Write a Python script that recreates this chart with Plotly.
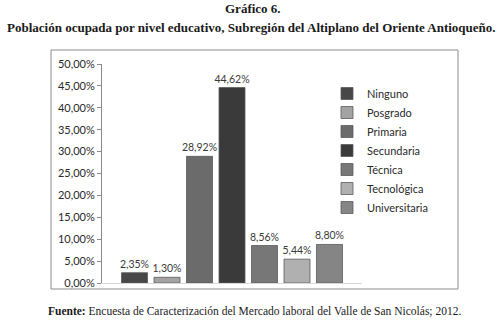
import plotly.graph_objects as go

categories = ["Ninguno", "Posgrado", "Primaria", "Secundaria", "Técnica", "Tecnológica", "Universitaria"]
values = [2.35, 1.30, 28.92, 44.62, 8.56, 5.44, 8.80]
colors = ["#474747", "#a3a3a3", "#6b6b6b", "#3a3a3a", "#777777", "#b0b0b0", "#858585"]
y_ticks = [0, 5, 10, 15, 20, 25, 30, 35, 40, 45, 50]

title1 = "Gráfico 6."
title2 = "Población ocupada por nivel educativo, Subregión del Altiplano del Oriente Antioqueño."
source_bold = "Fuente:"
source_text = " Encuesta de Caracterización del Mercado laboral del Valle de San Nicolás; 2012."

W, H = 502, 320
L, R, T, B = 102, 140, 64, 37
pw, ph = W - L - R, H - T - B

def px_x(p):
    return (p - L) / pw

def px_y(p):
    return (H - B - p) / ph

fig = go.Figure()
for cat, val, col in zip(categories, values, colors):
    fig.add_trace(go.Bar(
        x=[cat], y=[val], name=cat,
        marker=dict(color=col, line=dict(color="#5a5a5a", width=0.8)),
        texttemplate="%{y:.2f}%", textposition="outside", constraintext="none",
        textfont=dict(family="Lato", size=10.5, color="#3a3a3a"),
        cliponaxis=False,
    ))

fig.update_layout(
    width=W, height=H,
    margin=dict(l=L, r=R, t=T, b=B),
    paper_bgcolor="white", plot_bgcolor="white",
    separators=",.",
    barmode="relative", bargap=0.2,
    showlegend=True,
    legend=dict(
        x=px_x(327), y=px_y(79), xanchor="left", yanchor="top",
        font=dict(family="Lato", size=11, color="#2a2a2a"),
        tracegroupgap=2, itemwidth=30, bgcolor="rgba(0,0,0,0)",
    ),
    xaxis=dict(
        categoryorder="array", categoryarray=categories,
        range=[-1, 7], showticklabels=False, ticks="",
        showline=True, linecolor="#d8d8d8", linewidth=1,
        showgrid=False, zeroline=False,
    ),
    yaxis=dict(
        range=[0, 50], tickvals=y_ticks,
        ticktext=[f"{v:.2f}".replace(".", ",") + "%" for v in y_ticks],
        ticks="outside", ticklen=4, tickcolor="#8a8a8a",
        showline=True, linecolor="#8a8a8a", linewidth=1,
        showgrid=False, zeroline=False,
        tickfont=dict(family="Lato", size=11, color="#2a2a2a"),
    ),
    font=dict(family="Lato"),
)

# chart frame
fig.add_shape(type="rect", xref="paper", yref="paper",
              x0=px_x(51), x1=px_x(458), y0=px_y(289), y1=px_y(50),
              line=dict(color="#8c8c8c", width=1), fillcolor="rgba(0,0,0,0)", layer="below")

serif = "Liberation Serif"
fig.add_annotation(text=f"<b>{title1}</b>", xref="paper", yref="paper",
                   x=px_x(253), y=px_y(9), xanchor="center", yanchor="middle",
                   showarrow=False, font=dict(family=serif, size=13, color="#1a1a1a"))
fig.add_annotation(text=f"<b>{title2}</b>", xref="paper", yref="paper",
                   x=px_x(251), y=px_y(27), xanchor="center", yanchor="middle",
                   showarrow=False, font=dict(family=serif, size=13, color="#1a1a1a"))
fig.add_annotation(text=f"<b>{source_bold}</b>{source_text}", xref="paper", yref="paper",
                   x=px_x(254), y=px_y(311), xanchor="center", yanchor="middle",
                   showarrow=False, font=dict(family=serif, size=11.5, color="#1a1a1a"))

fig.write_html("out.html", config={"displayModeBar": False},
               post_script="document.body.style.margin='0';")
